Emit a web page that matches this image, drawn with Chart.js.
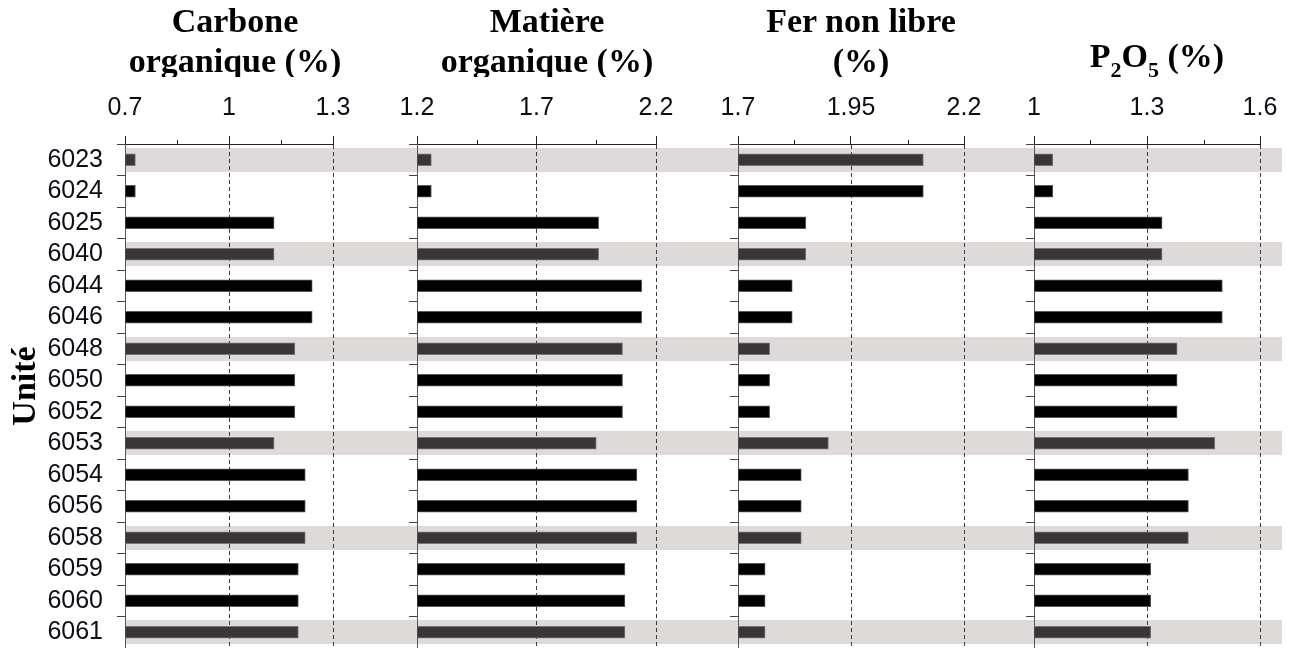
<!DOCTYPE html>
<html lang="fr">
<head>
<meta charset="utf-8">
<title>Unités – carbone, matière organique, fer non libre, P2O5</title>
<script src="https://cdn.jsdelivr.net/npm/chart.js@4.4.1/dist/chart.umd.min.js"></script>
<style>
  html, body { margin: 0; padding: 0; background: #fff; }
  body { width: 1290px; height: 648px; position: relative; overflow: hidden; }
  canvas.panel { position: absolute; top: 0; }
  .titles { position: absolute; left: 0; top: 0; width: 1290px; height: 77px; overflow: hidden; }
  .title {
    position: absolute; top: 1px; width: 300px; text-align: center;
    font: bold 34px/40px "Liberation Serif", "Times New Roman", serif; color: #000;
  }
  .title .sub { font-size: 22px; vertical-align: -10px; line-height: 0; }
  .ytitle {
    position: absolute; left: -36px; top: 366px; width: 120px; height: 40px;
    text-align: center; font: bold 34px/40px "Liberation Serif", "Times New Roman", serif; color: #000;
    transform: rotate(-90deg); transform-origin: 50% 50%;
  }
</style>
</head>
<body>
<canvas class="panel" id="pCarbone"></canvas>
<canvas class="panel" id="pMatiere"></canvas>
<canvas class="panel" id="pFer"></canvas>
<canvas class="panel" id="pP2O5"></canvas>

<div class="titles">
  <div class="title" style="left:85px;">Carbone<br>organique (%)</div>
  <div class="title" style="left:397px;">Matière<br>organique (%)</div>
  <div class="title" style="left:711px;">Fer non libre<br>(%)</div>
  <div class="title" style="left:1007px;top:36px;">P<span class="sub">2</span>O<span class="sub">5</span> (%)</div>
</div>
<div class="ytitle">Unité</div>

<script>
// Units (rows, top to bottom)
const units = ['6023', '6024', '6025', '6040', '6044', '6046', '6048', '6050',
               '6052', '6053', '6054', '6056', '6058', '6059', '6060', '6061'];
// Units highlighted with a grey band
const shadedUnits = ['6023', '6040', '6048', '6053', '6058', '6061'];

// Measured values (%)
const carboneOrganique = [0.73, 0.73, 1.13, 1.13, 1.24, 1.24, 1.19, 1.19,
                          1.19, 1.13, 1.22, 1.22, 1.22, 1.20, 1.20, 1.20];
const matiereOrganique = [1.26, 1.26, 1.96, 1.96, 2.14, 2.14, 2.06, 2.06,
                          2.06, 1.95, 2.12, 2.12, 2.12, 2.07, 2.07, 2.07];
const ferNonLibre      = [2.11, 2.11, 1.85, 1.85, 1.82, 1.82, 1.77, 1.77,
                          1.77, 1.90, 1.84, 1.84, 1.84, 1.76, 1.76, 1.76];
const p2o5             = [1.05, 1.05, 1.34, 1.34, 1.50, 1.50, 1.38, 1.38,
                          1.38, 1.48, 1.41, 1.41, 1.41, 1.31, 1.31, 1.31];

// Labelled (major) ticks of each value axis
const carboneTicks = [0.7, 1, 1.3];
const matiereTicks = [1.2, 1.7, 2.2];
const ferTicks     = [1.7, 1.95, 2.2];
const p2o5Ticks    = [1, 1.3, 1.6];

const BAND = '#dedad9';
const BAR_PLAIN = '#000000';
const BAR_SHADED = '#3a3536';
const TICK_FONT = { family: '"Liberation Sans", Arial, sans-serif', size: 25 };
const TEXT = '#0d0d16';

const isShaded = i => shadedUnits.includes(units[i]);

// Grey bands, dashed reference lines and short minor ticks
const panelDecor = {
  id: 'panelDecor',
  beforeDraw(chart, args, opts) {
    const { ctx, chartArea } = chart;
    const y = chart.scales.y;
    const from = opts.bandFrom === null ? chartArea.left : opts.bandFrom;
    const to = opts.bandTo === null ? chart.width : opts.bandTo;
    ctx.save();
    ctx.fillStyle = BAND;
    units.forEach((u, i) => {
      if (!isShaded(i)) return;
      const c = y.getPixelForValue(i);
      ctx.fillRect(from, Math.round(c - 12), to - from, 24);
    });
    ctx.restore();
  },
  beforeDatasetsDraw(chart, args, opts) {
    const { ctx, chartArea } = chart;
    const x = chart.scales.x;
    const majors = opts.majors;
    ctx.save();
    ctx.lineWidth = 1;
    // dashed vertical lines at each major tick after the first
    ctx.strokeStyle = '#3a3a3a';
    ctx.setLineDash([4, 3]);
    majors.slice(1).forEach(v => {
      const px = Math.round(x.getPixelForValue(v)) + 0.5;
      ctx.beginPath();
      ctx.moveTo(px, chartArea.top + 1);
      ctx.lineTo(px, chartArea.bottom);
      ctx.stroke();
    });
    // short minor ticks half-way between majors
    ctx.setLineDash([]);
    ctx.strokeStyle = '#222';
    for (let k = 0; k < majors.length - 1; k++) {
      const v = (majors[k] + majors[k + 1]) / 2;
      const px = Math.round(x.getPixelForValue(v)) + 0.5;
      ctx.beginPath();
      ctx.moveTo(px, chartArea.top - 4);
      ctx.lineTo(px, chartArea.top);
      ctx.stroke();
    }
    ctx.restore();
  }
};

function makePanel(id, left, width, yWidth, rightPad, values, majors, showUnits, bandFrom, bandTo) {
  const canvas = document.getElementById(id);
  canvas.style.left = left + 'px';
  canvas.width = width;
  canvas.height = 648;
  canvas.style.width = width + 'px';
  canvas.style.height = '648px';
  const min = majors[0];
  const max = majors[majors.length - 1];
  const majorSet = majors.map(v => +v.toFixed(4));
  const allTicks = [];
  majors.forEach((v, k) => {
    allTicks.push(v);
    if (k < majors.length - 1) allTicks.push((v + majors[k + 1]) / 2);
  });
  const isMajor = v => majorSet.includes(+v.toFixed(4));

  return new Chart(canvas, {
    type: 'bar',
    data: {
      labels: units,
      datasets: [{
        data: values,
        base: min,
        backgroundColor: values.map((v, i) => isShaded(i) ? BAR_SHADED : BAR_PLAIN),
        borderColor: values.map((v, i) => isShaded(i) ? '#7a7676' : '#5a5a5a'),
        borderWidth: 1,
        barThickness: 12
      }]
    },
    options: {
      indexAxis: 'y',
      responsive: false,
      animation: false,
      devicePixelRatio: 1,
      layout: { padding: { top: 0, bottom: 0, left: 0, right: rightPad } },
      plugins: {
        legend: { display: false },
        tooltip: { enabled: false },
        title: { display: false },
        panelDecor: { majors: majors, bandFrom: bandFrom, bandTo: bandTo }
      },
      scales: {
        x: {
          type: 'linear',
          position: 'top',
          min: min,
          max: max,
          afterBuildTicks: s => { s.ticks = allTicks.map(v => ({ value: v })); },
          afterFit: s => { s.height = 144; s.paddingLeft = 0; s.paddingRight = 0; },
          grid: {
            drawOnChartArea: false,
            drawTicks: true,
            tickLength: 8,
            tickColor: c => (c.tick && isMajor(c.tick.value)) ? '#222' : 'rgba(0,0,0,0)'
          },
          border: { display: true, color: '#222', width: 1 },
          ticks: {
            font: TICK_FONT,
            color: TEXT,
            padding: 13,
            maxRotation: 0,
            autoSkip: false,
            callback: v => isMajor(v) ? String(+v.toFixed(4)) : ''
          }
        },
        y: {
          type: 'category',
          offset: true,
          afterFit: s => { s.width = yWidth; s.paddingTop = 0; s.paddingBottom = 0; },
          grid: {
            offset: true,
            drawOnChartArea: false,
            drawTicks: true,
            tickLength: 8,
            tickColor: '#444'
          },
          border: { display: true, color: '#555', width: 1 },
          ticks: {
            display: showUnits,
            font: TICK_FONT,
            color: TEXT,
            padding: 14,
            autoSkip: false
          }
        }
      }
    },
    plugins: [panelDecor]
  });
}

makePanel('pCarbone', 0,    377, 125, 44, carboneOrganique, carboneTicks, true,  null, null);
makePanel('pMatiere', 377,  321, 40,  42, matiereOrganique, matiereTicks, false, 0,    null);
makePanel('pFer',     698,  296, 40,  30, ferNonLibre,      ferTicks,     false, 0,    null);
makePanel('pP2O5',    994,  296, 40,  30, p2o5,             p2o5Ticks,    false, 0,    288);
</script>
</body>
</html>
